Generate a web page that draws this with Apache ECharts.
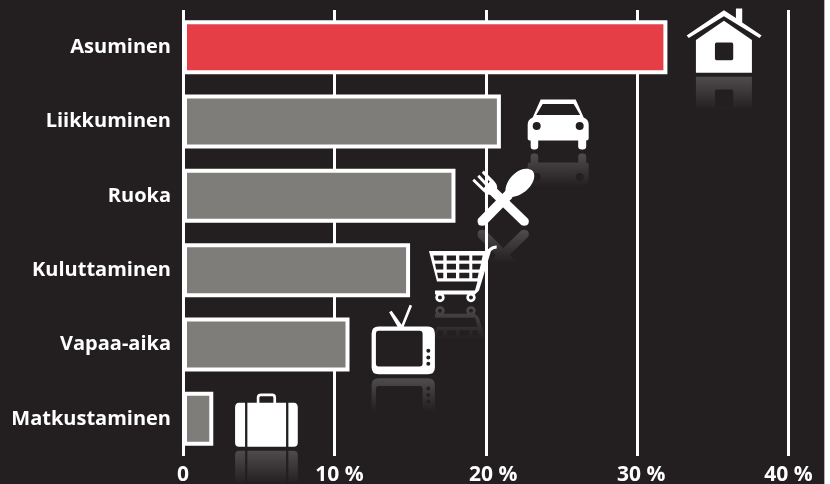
<!DOCTYPE html>
<html>
<head>
<meta charset="utf-8">
<style>
  html, body { margin: 0; padding: 0; background: #fff; }
  #main { width: 824px; height: 484px; border-right: 1px solid #b0b0b0; }
</style>
<script src="https://cdn.jsdelivr.net/npm/echarts@6/dist/echarts.min.js"></script>
</head>
<body>
<div id="main"></div>
<script>
const categories = ['Asuminen', 'Liikkuminen', 'Ruoka', 'Kuluttaminen', 'Vapaa-aika', 'Matkustaminen']
const shares = [32, 21, 18, 15, 11, 2]
// where each icon starts on the value axis
const iconStart = [33.27, 22.77, 19.11, 16.25, 12.46, 3.44]
const tickLabels = { 0: '{a|0}', 10: '{b|10 %}', 20: '{c|20 %}', 30: '{d|30 %}', 40: '{a|40 %}' }

const circle = (x, y, r, sweep) =>
  `M${x - r},${y} a${r},${r} 0 1 ${sweep} ${2 * r},0 a${r},${r} 0 1 ${sweep} ${-2 * r},0 Z `

// icon outlines in their own box, w x h, below = how far under the bar centre the icon ends
const icons = [
  {
    w: 75, h: 64.4, below: 25.7,
    d: 'M0,27 L37.3,1.7 L49.3,9.5 L49.3,0 L55.6,0 L55.6,14 L75,27 L72.8,29.5 L37.3,7.7 L2.2,29.5 Z ' +
       'M9.3,31.5 L37.3,12.4 L65.3,31.5 L65.3,64.4 L9.3,64.4 Z ' +
       'M30,34 Q28.3,34 28.3,36 L28.3,50 Q28.3,51.7 30,51.7 L45,51.7 Q46.6,51.7 46.6,50 L46.6,36 Q46.6,34 45,34 Z'
  },
  {
    w: 61, h: 50, below: 28,
    d: 'M13,0 L48,0 L56,18 Q61,20 61,25 L61,39 Q61,41 58.5,41 L58.5,47 Q58.5,50 55,50 L54,50 Q50.5,50 50.5,47 L50.5,41 ' +
       'L10.5,41 L10.5,47 Q10.5,50 7,50 L6,50 Q3,50 3,47 L3,41 Q0,41 0,39 L0,25 Q0,20 5,18 Z ' +
       'M15,4.5 L8.5,15.5 L52.5,15.5 L46,4.5 Z ' + circle(9, 26.5, 4, 0) + circle(52, 26.5, 4, 0)
  },
  {
    w: 62, h: 57, below: 30,
    d: 'M24,19 L56,49.5 Q57.5,53 55,55.5 Q52,57 49,55.5 L17,25 Z ' +
       'M5.5,49.5 L33,22 L40,29 L13.5,55.5 Q10,57 6.5,55.5 Q4.5,53 5.5,49.5 Z ' +
       'M33,23 C33,14 40,5 48,1.5 C54,-1 62,0 62,7 C62,16 52,25 44,27 C42,27.5 40,28 39,29 Z ' +
       'M0,12 L2,10 L11.5,19 L13.5,17 L5,8 L7,6 L15.5,15 L17.5,13 L9.5,4 L11.5,2 L22,12.5 Q26,17 24.5,21 L19,26 Q14.5,26 11,22.5 Z'
  },
  {
    w: 67.7, h: 56.7, below: 32,
    d: 'M0,5.5 L57,5.5 L60,3 Q63,0 67.7,0 L67.7,3 Q64,3 62,5.5 L50,45 L46,49 L6,49 L6,45 L46,45 L48.5,36 L8,36 Z ' +
       'M4.3,10 L5.5,15 L14.3,15 L14.3,10 Z M17.7,10 L17.7,15 L27,15 L27,10 Z M30.3,10 L30.3,15 L40.3,15 L40.3,10 Z M43.3,10 L43.3,15 L52.5,15 L53.7,10 Z ' +
       'M6,18.3 L7.2,24 L14.3,24 L14.3,18.3 Z M17.7,18.3 L17.7,24 L27,24 L27,18.3 Z M30.3,18.3 L30.3,24 L40.3,24 L40.3,18.3 Z M43.3,18.3 L43.3,24 L50.5,24 L52,18.3 Z ' +
       'M8,27.3 L9.2,32.7 L14.3,32.7 L14.3,27.3 Z M18,27.3 L18,32.7 L27,32.7 L27,27.3 Z M30.3,27.3 L30.3,32.7 L40.3,32.7 L40.3,27.3 Z M43.3,27.3 L43.3,32.7 L48.5,32.7 L49.7,27.3 Z ' +
       circle(11, 52, 4.7, 1) + circle(11, 52, 2, 0) + circle(42, 52, 4.7, 1) + circle(42, 52, 2, 0)
  },
  {
    w: 63.3, h: 69.4, below: 29.7,
    d: 'M17.5,7.5 L20,6 L30,20 L38,0 L40.5,1 L32,22 L26,22 Z ' +
       'M7,21.7 L56.3,21.7 Q63.3,21.7 63.3,28.7 L63.3,62.4 Q63.3,69.4 56.3,69.4 L7,69.4 Q0,69.4 0,62.4 L0,28.7 Q0,21.7 7,21.7 Z ' +
       'M7,26 Q4.3,26 4.3,29 L4.3,58.7 Q4.3,61.7 7,61.7 L48,61.7 Q51,61.7 51,58.7 L51,29 Q51,26 48,26 Z ' +
       circle(56.7, 46, 2, 0) + circle(56.7, 52.7, 2, 0) + circle(56.7, 59, 2, 0)
  },
  {
    w: 62.7, h: 53.3, below: 28,
    d: 'M21.7,10 L21.7,4 Q21.7,0 26,0 L37,0 Q41,0 41,4 L41,10 L38.3,10 L38.3,4 Q38.3,2.7 37,2.7 L26,2.7 Q24.3,2.7 24.3,4 L24.3,10 Z ' +
       'M10,9.3 L10,53.3 L4,53.3 Q0,53.3 0,49 L0,14 Q0,9.3 4,9.3 Z ' +
       'M12.3,9.3 L51,9.3 L51,53.3 L12.3,53.3 Z ' +
       'M53.3,9.3 L58.7,9.3 Q62.7,9.3 62.7,14 L62.7,49 Q62.7,53.3 58.7,53.3 L53.3,53.3 Z'
  }
]

const bg = '#231f20'
const mirrorLength = 33
const mirrorGap = 4
const tickFont = { color: '#fff', fontFamily: 'Open Sans', fontWeight: 'bold', fontSize: 21 }

function drawIcon (params, api) {
  const icon = icons[params.dataIndex]
  const pos = api.coord([api.value(0), api.value(1)])
  const bottom = pos[1] + icon.below
  const shape = { pathData: icon.d, x: 0, y: 0, width: icon.w, height: icon.h, layout: 'cover' }
  return {
    type: 'group',
    x: pos[0],
    y: bottom - icon.h,
    children: [
      { type: 'path', shape: shape, style: { fill: '#fff' } },
      {
        // reflection under the icon, only the lowest part shows
        type: 'path',
        shape: shape,
        y: 2 * icon.h + mirrorGap,
        scaleY: -1,
        style: {
          fill: new echarts.graphic.LinearGradient(0, 0, 0, 1, [
            { offset: 0, color: 'rgba(255,255,255,0)' },
            { offset: 1 - mirrorLength / icon.h, color: 'rgba(255,255,255,0)' },
            { offset: 1, color: 'rgba(255,255,255,0.2)' }
          ])
        }
      }
    ]
  }
}

const chart = echarts.init(document.getElementById('main'))
chart.setOption({
  animation: false,
  backgroundColor: bg,
  // labels sit right at the canvas edge, keep the grid where it is set
  grid: { left: 183, top: 10, width: 605.5, height: 446, outerBoundsMode: 'none' },
  xAxis: {
    type: 'value',
    min: 0,
    max: 40,
    interval: 10,
    axisLine: { show: false },
    axisTick: { show: false },
    splitLine: { show: true, lineStyle: { color: '#fff', width: 3 } },
    axisLabel: {
      ...tickFont,
      margin: 9,
      formatter: v => tickLabels[v],
      rich: {
        a: { ...tickFont },
        b: { ...tickFont, padding: [0, 0, 0, 10] },
        c: { ...tickFont, padding: [0, 0, 0, 15] },
        d: { ...tickFont, padding: [0, 0, 0, 8] }
      }
    }
  },
  yAxis: {
    type: 'category',
    inverse: true,
    data: categories,
    axisLine: { show: false },
    axisTick: { show: false },
    axisLabel: {
      color: '#fff',
      fontFamily: 'Open Sans',
      fontWeight: 'bold',
      fontSize: 20,
      margin: 12
    }
  },
  series: [
    {
      type: 'bar',
      barWidth: 54,
      data: shares.map((v, i) => ({
        value: v,
        itemStyle: {
          color: i === 0 ? '#e63e46' : '#7f7d7a',
          borderColor: '#fff',
          borderWidth: 4
        }
      }))
    },
    {
      type: 'custom',
      coordinateSystem: 'cartesian2d',
      renderItem: drawIcon,
      encode: { x: 0, y: 1 },
      data: iconStart.map((v, i) => [v, i])
    }
  ]
})
</script>
</body>
</html>
